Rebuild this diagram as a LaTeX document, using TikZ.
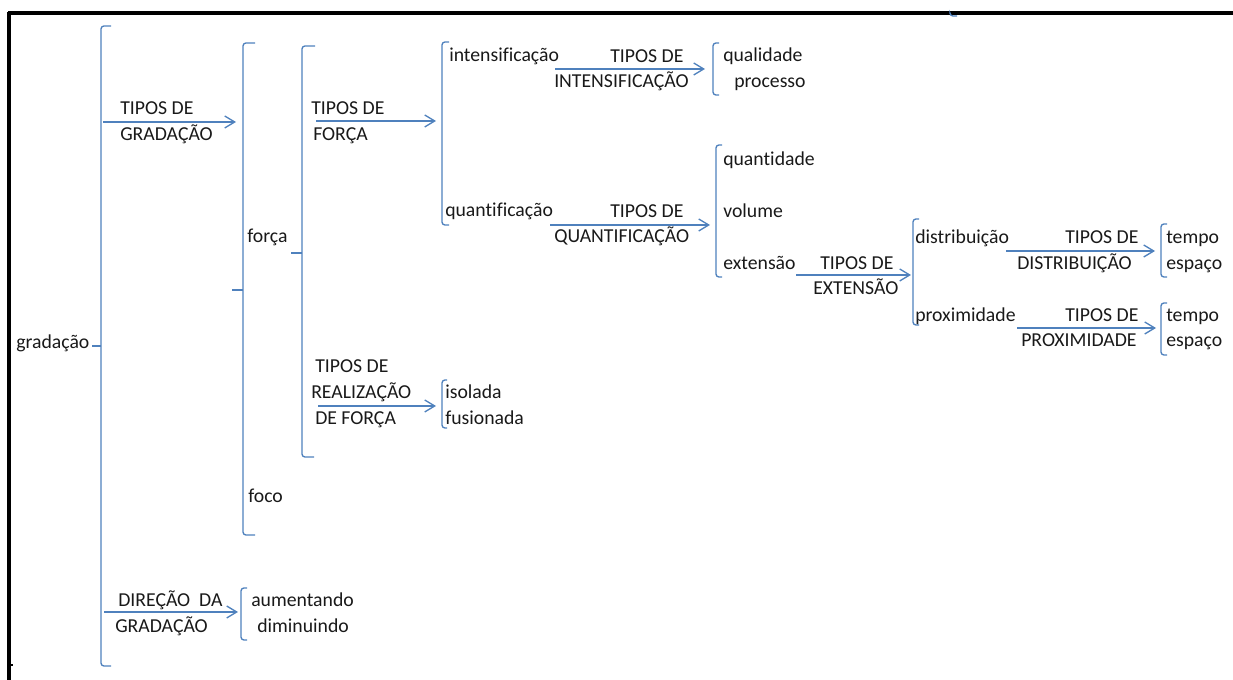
\documentclass[tikz,border=0pt]{standalone}
\usepackage{fontspec}
\setmainfont{Carlito}[Ligatures=NoCommon]
\usetikzlibrary{arrows.meta}
\definecolor{bl}{RGB}{79,129,189}
\definecolor{tx}{RGB}{25,25,25}
\tikzset{
  br/.style={draw=bl, line width=1pt, rounded corners=2.2pt},
  arr/.style={draw=bl, line width=1pt, -{Straight Barb[length=7.5pt,width=9pt,line width=1pt]}},
  txt/.style={inner sep=0pt, anchor=base west, text=tx, font=\fontsize{14.8}{17}\selectfont},
  frame/.style={draw=black, line width=2.6pt}
}
\begin{document}
\begin{tikzpicture}[x=0.75pt,y=-0.75pt]
\useasboundingbox (0,0) rectangle (1233,680);
% frame
\draw[frame] (8,13) -- (1233,13);
\draw[frame] (9,12) -- (9,680);
\draw[black, line width=0.8pt] (9,665) -- (13,665);
\draw[br] (950,14) -- (950,16) -- (957,16);

% level 0
\node[txt] (grad) at (16,349) {gradação};
\draw[br] (111,26) -- (101,26) -- (101,666) -- (111,666);
\draw[br] (101,346) -- (92,346);

% TIPOS DE GRADACAO
\node[txt] (tg1) at (120,115) {TIPOS DE};
\node[txt] (tg2) at (120,141) {GRADAÇÃO};
\coordinate (tgs) at (103,122);
\coordinate (tge) at (236,122);
\draw[arr] (tgs) -- (tge);

% DIRECAO DA GRADACAO
\node[txt] (dg1) at (118,607) {DIREÇÃO\ \ DA};
\node[txt] (dg2) at (115,633) {GRADAÇÃO};
\coordinate (dgs) at (104,612);
\coordinate (dge) at (238,612);
\draw[arr] (dgs) -- (dge);
\draw[br] (247,588) -- (241,588) -- (241,640) -- (247,640);
\node[txt] (aum) at (251,607) {aumentando};
\node[txt] (dim) at (257,633) {diminuindo};

% forca / foco bracket
\draw[br] (255,43) -- (243,43) -- (243,535) -- (255,535);
\draw[br] (243,290) -- (232,290);
\node[txt] (forca) at (247,243) {força};
\node[txt] (foco) at (248,503) {foco};

% tipos de forca bracket
\draw[br] (315,46) -- (302,46) -- (302,457) -- (314,457);
\draw[br] (302,253) -- (291,253);

\node[txt] (tf1) at (311,115) {TIPOS DE};
\node[txt] (tf2) at (313,141) {FORÇA};
\coordinate (tfs) at (316,121);
\coordinate (tfe) at (436,121);
\draw[arr] (tfs) -- (tfe);

\node[txt] (tr1) at (315,373) {TIPOS DE};
\node[txt] (tr2) at (311,399) {REALIZAÇÃO};
\node[txt] (tr3) at (315,425) {DE FORÇA};
\coordinate (trs) at (318,406);
\coordinate (tre) at (436,406);
\draw[arr] (trs) -- (tre);
\draw[br] (447,380) -- (442,380) -- (442,428) -- (447,428);
\node[txt] (iso) at (445,399) {isolada};
\node[txt] (fus) at (445,425) {fusionada};

% intensificacao / quantificacao
\draw[br] (449,42) -- (442,42) -- (442,225) -- (449,225);
\node[txt] (int) at (449,62) {intensificação};
\node[txt] (qua) at (445,217) {quantificação};

\node[txt] (ti1) at (610,63) {TIPOS DE};
\node[txt] (ti2) at (554,88) {INTENSIFICAÇÃO};
\coordinate (tis) at (555,69);
\coordinate (tie) at (705,69);
\draw[arr] (tis) -- (tie);
\draw[br] (719,43) -- (713,43) -- (713,95) -- (719,95);
\node[txt] (qual) at (723,62) {qualidade};
\node[txt] (proc) at (734,88) {processo};

\node[txt] (tq1) at (610,218) {TIPOS DE};
\node[txt] (tq2) at (554,243) {QUANTIFICAÇÃO};
\coordinate (tqs) at (550,225);
\coordinate (tqe) at (710,225);
\draw[arr] (tqs) -- (tqe);
\draw[br] (722,145) -- (716,145) -- (716,277) -- (722,277);
\node[txt] (qtd) at (723,166) {quantidade};
\node[txt] (vol) at (723,218) {volume};
\node[txt] (ext) at (723,270) {extensão};

% extensao
\node[txt] (te1) at (820,270) {TIPOS DE};
\node[txt] (te2) at (813,295) {EXTENSÃO};
\coordinate (tes) at (796,275);
\coordinate (tee) at (911,275);
\draw[arr] (tes) -- (tee);
\draw[br] (919,219) -- (913,219) -- (913,325) -- (919,325);
\node[txt] (dist) at (915,244) {distribuição};
\node[txt] (prox) at (915,322) {proximidade};

\node[txt] (td1) at (1065,244) {TIPOS DE};
\node[txt] (td2) at (1017,270) {DISTRIBUIÇÃO};
\coordinate (tds) at (1006,251);
\coordinate (tde) at (1155,251);
\draw[arr] (tds) -- (tde);
\draw[br] (1167,224) -- (1161,224) -- (1161,277) -- (1167,277);
\node[txt] (tmp1) at (1166,244) {tempo};
\node[txt] (esp1) at (1166,270) {espaço};

\node[txt] (tp1) at (1065,322) {TIPOS DE};
\node[txt] (tp2) at (1021,347) {PROXIMIDADE};
\coordinate (tps) at (1017,328);
\coordinate (tpe) at (1156,328);
\draw[arr] (tps) -- (tpe);
\draw[br] (1167,303) -- (1161,303) -- (1161,355) -- (1167,355);
\node[txt] (tmp2) at (1166,322) {tempo};
\node[txt] (esp2) at (1166,347) {espaço};
\end{tikzpicture}
\end{document}
